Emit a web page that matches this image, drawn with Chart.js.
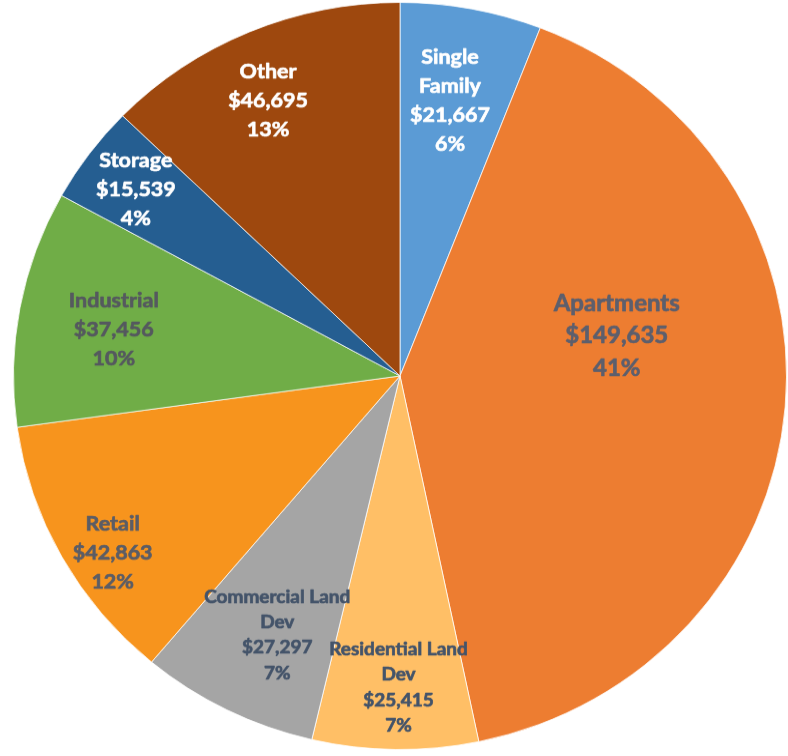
<!DOCTYPE html>
<html>
<head>
<meta charset="utf-8">
<script src="https://cdn.jsdelivr.net/npm/chart.js@4/dist/chart.umd.min.js"></script>
<style>
  html, body { margin: 0; padding: 0; background: #ffffff; overflow: hidden; }
  #wrap { position: absolute; left: 0; top: 0; width: 788px; height: 782px;
          transform: scaleY(0.9664); transform-origin: 0 0; }
</style>
</head>
<body>
<div id="wrap"><canvas id="c"></canvas></div>
<script>
// ---- data ----
const categories = [
  ['Single', 'Family'],
  'Apartments',
  ['Residential Land', 'Dev'],
  ['Commercial Land', 'Dev'],
  'Retail',
  'Industrial',
  'Storage',
  'Other'
];
const values = [21667, 149635, 25415, 27297, 42863, 37456, 15539, 46695];

// ---- styles ----
const sliceColors = ['#5B9BD5', '#ED7D31', '#FFBF66', '#A5A5A5', '#F7941D', '#70AD47', '#255E91', '#9E480E'];
const labelColors = ['#ffffff', '#5d5f6d', '#44546A', '#44546A', '#5b5d66', '#55595f', '#ffffff', '#ffffff'];
const labelFontSizes = [21.5, 24, 19, 19, 21.5, 21.5, 21.5, 21.5];
const labelLineHeights = [30, 33.6, 26.4, 26.4, 30, 30, 30, 30];
// label placement: angular shift from slice middle (deg, clockwise) and radius fraction
const labelShift = [-0.7, -15.6, -0.45, -2.0, -3.5, -0.9, -0.3, -1.9];
const labelRadius = [0.749, 0.571, 0.834, 0.763, 0.881, 0.751, 0.847, 0.813];

const fontFamily = 'Lato, "Open Sans", sans-serif';

const labelPlugin = {
  id: 'sliceLabels',
  afterDatasetsDraw(chart) {
    const ctx = chart.ctx;
    const meta = chart.getDatasetMeta(0);
    const data = chart.data.datasets[0].data;
    const total = data.reduce((a, b) => a + b, 0);
    meta.data.forEach((arc, i) => {
      const p = arc.getProps(['x', 'y', 'startAngle', 'endAngle', 'outerRadius'], true);
      const a = (p.startAngle + p.endAngle) / 2 + labelShift[i] * Math.PI / 180;
      const r = p.outerRadius * labelRadius[i];
      const cx = p.x + r * Math.cos(a);
      const cy = p.y + r * Math.sin(a);
      const name = chart.data.labels[i];
      const lines = (Array.isArray(name) ? name.slice() : [name]);
      lines.push('$' + data[i].toLocaleString('en-US'));
      lines.push(Math.round(data[i] / total * 100) + '%');
      const lh = labelLineHeights[i];
      ctx.save();
      ctx.font = 'bold ' + labelFontSizes[i] + 'px ' + fontFamily;
      ctx.fillStyle = labelColors[i];
      ctx.strokeStyle = labelColors[i];
      ctx.lineWidth = 0.7;
      ctx.lineJoin = 'round';
      ctx.textAlign = 'center';
      ctx.textBaseline = 'middle';
      const y0 = cy - (lines.length - 1) * lh / 2;
      lines.forEach((t, k) => {
        ctx.fillText(t, cx, y0 + k * lh);
        ctx.strokeText(t, cx, y0 + k * lh);
      });
      ctx.restore();
    });
  }
};

new Chart(document.getElementById('c'), {
  type: 'pie',
  data: {
    labels: categories,
    datasets: [{
      data: values,
      backgroundColor: sliceColors,
      borderColor: 'rgba(255,255,255,0.75)',
      borderWidth: 1
    }]
  },
  options: {
    responsive: true,
    maintainAspectRatio: false,
    animation: false,
    rotation: 0,
    layout: { padding: { left: 13, right: 1, top: 2, bottom: 6 } },
    plugins: {
      legend: { display: false },
      tooltip: { enabled: false },
      title: { display: false }
    }
  },
  plugins: [labelPlugin]
});
</script>
</body>
</html>
